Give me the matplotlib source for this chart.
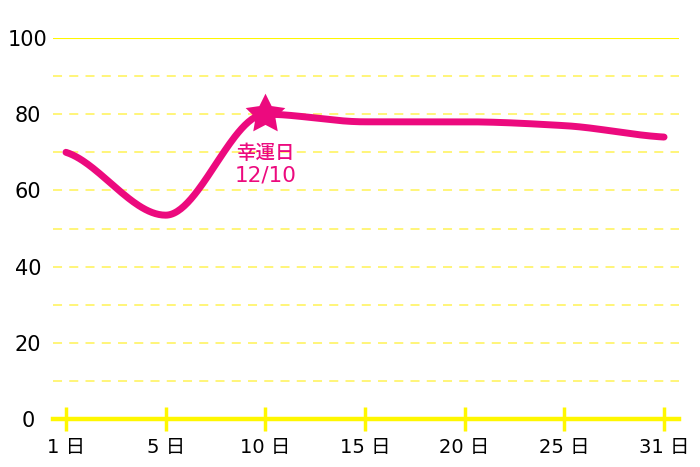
import numpy as np
import matplotlib
matplotlib.use("Agg")
import matplotlib.pyplot as plt
from matplotlib.path import Path

plt.rcParams['font.family'] = ['DejaVu Sans', 'Noto Sans CJK JP']

categories = ["1 日", "5 日", "10 日", "15 日", "20 日", "25 日", "31 日"]
values = [70, 53.5, 80, 78, 78, 77, 74]
yticks = [0, 20, 40, 60, 80, 100]
lucky_index = 2
lucky_title = "幸運日"
lucky_date = "12/10"

PINK = "#EC0A7E"
YELLOW = "#FFF700"
GRID = "#FFF56E"


def smooth_curve(x, y, n=60):
    """Monotone cubic Hermite curve through the points (flat at local extremes)."""
    x = np.asarray(x, float); y = np.asarray(y, float)
    h = np.diff(x); d = np.diff(y) / h
    m = np.zeros_like(y)
    for i in range(1, len(y) - 1):
        if d[i - 1] * d[i] > 0:
            m[i] = 2 * d[i - 1] * d[i] / (d[i - 1] + d[i])
    m[0] = d[0] / 2
    m[-1] = d[-1] / 2
    xs, ys = [], []
    t = np.linspace(0, 1, n)
    h00 = 2 * t**3 - 3 * t**2 + 1
    h10 = t**3 - 2 * t**2 + t
    h01 = -2 * t**3 + 3 * t**2
    h11 = t**3 - t**2
    for i in range(len(x) - 1):
        xs.append(x[i] + t * h[i])
        ys.append(h00 * y[i] + h10 * h[i] * m[i] + h01 * y[i + 1] + h11 * h[i] * m[i + 1])
    return np.concatenate(xs), np.concatenate(ys)


def star_path(inner=0.5):
    ang = np.pi / 2 + np.arange(10) * np.pi / 5
    r = np.where(np.arange(10) % 2 == 0, 1.0, inner)
    verts = np.column_stack([r * np.cos(ang), r * np.sin(ang)])
    verts = np.vstack([verts, verts[:1]])
    codes = [Path.MOVETO] + [Path.LINETO] * 9 + [Path.CLOSEPOLY]
    return Path(verts, codes)


fig = plt.figure(figsize=(7, 4.67), dpi=100)
ax = fig.add_axes([53 / 700, 48 / 467, 626 / 700, 381 / 467])
xpos = np.arange(len(categories))
ax.set_xlim(-0.13, len(categories) - 1 + 0.15)
ax.set_ylim(0, 100)

for s in ax.spines.values():
    s.set_visible(False)

# gridlines
for v in range(10, 100, 10):
    ax.axhline(v, color=GRID, lw=1.3, ls=(0, (5, 4)), zorder=1)
ax.axhline(100, color=YELLOW, lw=1.5, zorder=1)
ax.axhline(0, color=YELLOW, lw=3.2, zorder=2, clip_on=False)

ax.set_yticks(yticks)
ax.set_yticklabels([str(v) for v in yticks])
ax.tick_params(axis='y', length=0, pad=18, labelsize=15, labelcolor='black')
for lab in ax.get_yticklabels():
    lab.set_horizontalalignment('center')

ax.set_xticks(xpos)
ax.set_xticklabels(categories)
ax.tick_params(axis='x', direction='inout', length=17.5, width=2.5, color=YELLOW,
               labelsize=14, pad=5)

cx, cy = smooth_curve(xpos, values)
ax.plot(cx, cy, color=PINK, lw=5, solid_capstyle='round', zorder=3, clip_on=False)
ax.plot([xpos[lucky_index]], [values[lucky_index]], marker=star_path(0.5), ms=30, color=PINK,
        mec=PINK, mew=0, zorder=4, clip_on=False)
ax.annotate(lucky_title, (xpos[lucky_index], values[lucky_index]), xytext=(0, -39),
            textcoords='offset pixels', color=PINK, ha='center', va='center',
            fontsize=14, fontweight='medium', zorder=5, family=['Noto Sans CJK JP'])
ax.annotate(lucky_date, (xpos[lucky_index], values[lucky_index]), xytext=(0, -61),
            textcoords='offset pixels', color=PINK, ha='center', va='center',
            fontsize=15.5, zorder=5)

fig.savefig("out.png", dpi=100)
